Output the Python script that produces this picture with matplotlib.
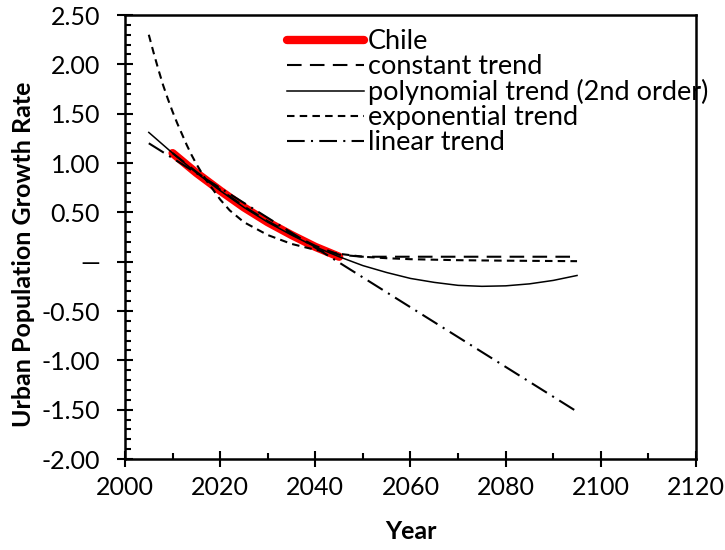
import matplotlib
matplotlib.use("Agg")
import matplotlib.pyplot as plt
from matplotlib.ticker import MultipleLocator, FuncFormatter

plt.rcParams['font.family'] = ['Lato', 'DejaVu Sans']

# Data
chile_years = [2010, 2015, 2020, 2025, 2030, 2035, 2040, 2045]
chile_vals = [1.10, 0.90, 0.72, 0.55, 0.40, 0.27, 0.15, 0.05]

const_years = [2010, 2015, 2020, 2025, 2030, 2035, 2040, 2045, 2050, 2060, 2070, 2080, 2090, 2095]
const_vals = [1.10, 0.91, 0.73, 0.56, 0.41, 0.28, 0.16, 0.07, 0.05, 0.05, 0.05, 0.05, 0.05, 0.05]

poly_years = [2005, 2010, 2015, 2020, 2025, 2030, 2035, 2040, 2045, 2050, 2055, 2060,
              2065, 2070, 2075, 2080, 2085, 2090, 2095]
poly_vals = [1.31, 1.10, 0.90, 0.72, 0.55, 0.40, 0.27, 0.15, 0.05, -0.04, -0.11, -0.17,
             -0.21, -0.24, -0.25, -0.245, -0.225, -0.19, -0.14]

exp_years = [2005, 2006, 2007, 2008, 2009, 2010, 2011, 2012, 2013, 2014, 2015, 2017, 2020,
             2022, 2025, 2030, 2035, 2040, 2045, 2050, 2055, 2060, 2065, 2070, 2080, 2095]
exp_vals = [2.30, 2.12, 1.95, 1.79, 1.65, 1.52, 1.40, 1.29, 1.18, 1.08, 0.99, 0.83, 0.63,
            0.52, 0.40, 0.27, 0.18, 0.12, 0.08, 0.05, 0.035, 0.025, 0.02, 0.015, 0.01, 0.005]

lin_years = [2005, 2095]
lin_vals = [1.20, -1.52]

labels = ["Chile", "constant trend", "polynomial trend (2nd order)", "exponential trend", "linear trend"]

FS_TICK = 18
FS_LAB = 18
FS_LEG = 19.5

fig = plt.figure(figsize=(7.25, 5.5), dpi=100)
ax = fig.add_axes([125/725, 1-459/550, (696-125)/725, (459-15)/550])

ax.plot(chile_years, chile_vals, color='#ff0000', lw=6, solid_capstyle='round', label=labels[0], zorder=2)
ax.plot(const_years, const_vals, color='black', lw=1.5, linestyle=(0, (7, 4)), label=labels[1], zorder=3)
ax.plot(poly_years, poly_vals, color='black', lw=1.1, label=labels[2], zorder=3)
ax.plot(exp_years, exp_vals, color='black', lw=1.5, linestyle=(0, (3.6, 2.5)), label=labels[3], zorder=3)
ax.plot(lin_years, lin_vals, color='black', lw=1.5, linestyle=(0, (8.5, 3, 1.0, 3)), label=labels[4], zorder=3)

ax.set_xlim(2000, 2120)
ax.set_ylim(-2.0, 2.5)
ax.xaxis.set_major_locator(MultipleLocator(20))
ax.xaxis.set_minor_locator(MultipleLocator(10))
ax.yaxis.set_major_locator(MultipleLocator(0.5))
ax.yaxis.set_minor_locator(MultipleLocator(0.1))

def yfmt(v, pos):
    if abs(v) < 1e-9:
        return "—"
    return f"{v:.2f}"
ax.yaxis.set_major_formatter(FuncFormatter(yfmt))

for s in ax.spines.values():
    s.set_linewidth(1.8)
ax.tick_params(which='major', direction='inout', length=12, width=1.5, labelsize=FS_TICK)
ax.tick_params(axis='y', which='major', pad=12)
ax.tick_params(axis='x', which='major', pad=6)
ax.tick_params(which='minor', direction='in', length=4.5, width=1.5)

ax.set_xlabel("Year", fontsize=FS_LAB, fontweight='bold')
ax.set_ylabel("Urban Population Growth Rate", fontsize=FS_LAB, fontweight='bold')
ax.xaxis.set_label_coords(0.5, -0.138)
ax.yaxis.set_label_coords(-0.158, 0.46)

leg = ax.legend(loc='upper left', bbox_to_anchor=(0.284, 0.968), frameon=False, fontsize=FS_LEG,
                handlelength=2.84, handletextpad=0.15, labelspacing=0.0, borderpad=0, borderaxespad=0)

fig.savefig("out.png", dpi=100)
